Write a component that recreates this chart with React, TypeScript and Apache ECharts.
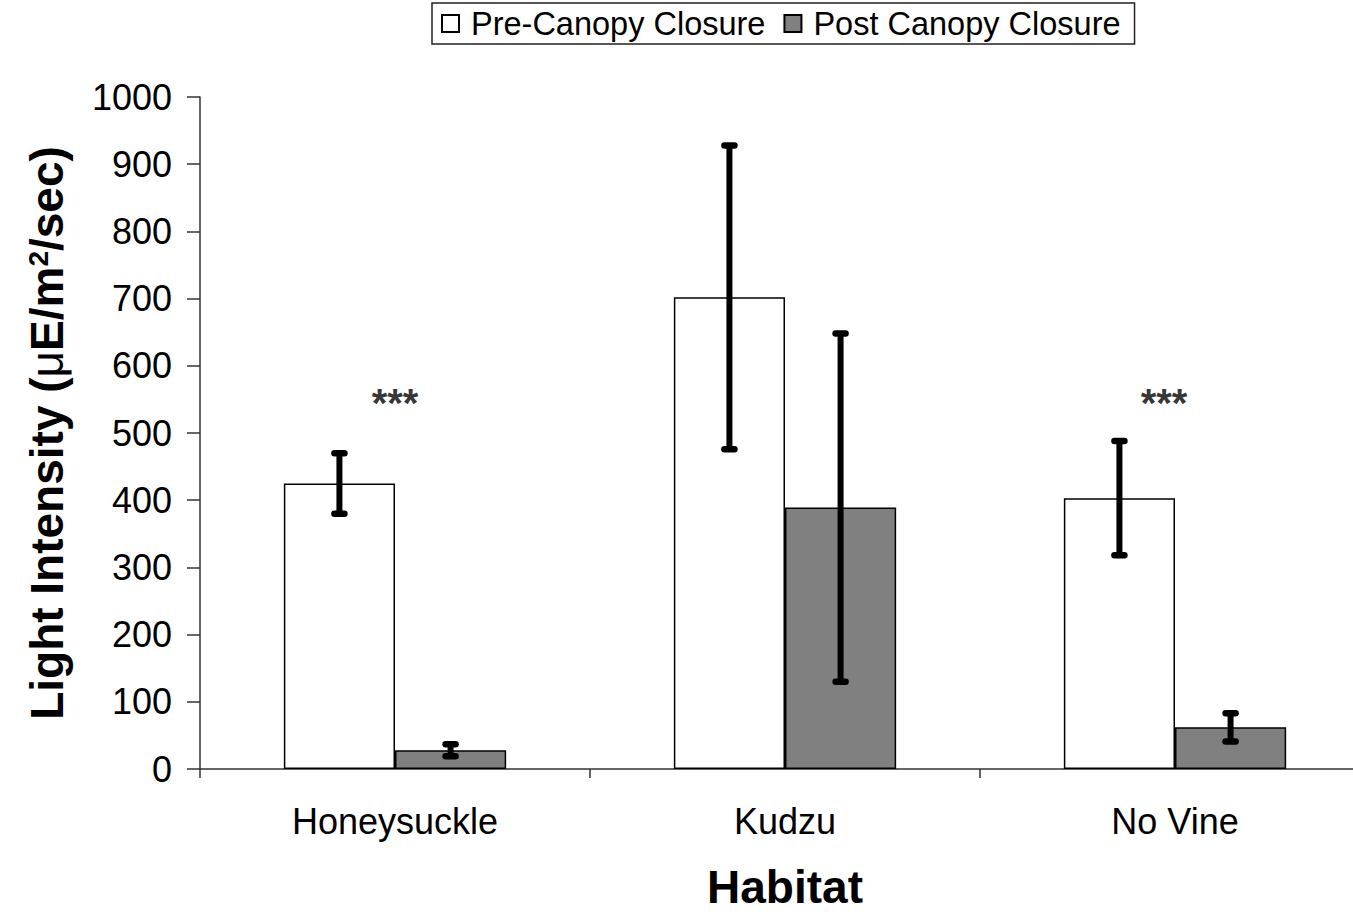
import React, { useEffect, useRef } from "react";
import * as echarts from "echarts";

const categories = ["Honeysuckle", "Kudzu", "No Vine"];
const seriesNames = ["Pre-Canopy Closure", "Post Canopy Closure"];
const preMean = [425, 702, 403];
const preErr = [45, 226, 85];
const postMean = [28, 389, 62];
const postErr = [9, 259, 21];
const sigLabels = ["***", "", "***"];
const sigValue = 553;
const yTicks = [0, 100, 200, 300, 400, 500, 600, 700, 800, 900, 1000];

const FONT = "'Liberation Sans', Arial, Helvetica, sans-serif";
const CAT_GAP = 0.43;

function errorSeries(means: number[], errs: number[], side: number) {
  const data = means.map((m, i) => [i, m - errs[i], m + errs[i]]);
  return {
    type: "custom",
    silent: true,
    z: 10,
    data,
    renderItem: (params: any, api: any) => {
      const idx = api.value(0);
      const lo = api.value(1);
      const hi = api.value(2);
      const band = api.size([1, 0])[0];
      const bw = (band * (1 - CAT_GAP)) / 2;
      const cx = api.coord([idx, 0])[0] + (side * bw) / 2;
      const yLo = api.coord([idx, lo])[1];
      const yHi = api.coord([idx, hi])[1];
      const capHalf = 5;
      const st = { stroke: "#000", lineWidth: 6, lineCap: "butt" };
      const capSt = { stroke: "#000", lineWidth: 6.5, lineCap: "round" };
      return {
        type: "group",
        children: [
          { type: "line", shape: { x1: cx, y1: yLo, x2: cx, y2: yHi }, style: st },
          { type: "line", shape: { x1: cx - capHalf, y1: yHi, x2: cx + capHalf, y2: yHi }, style: capSt },
          { type: "line", shape: { x1: cx - capHalf, y1: yLo, x2: cx + capHalf, y2: yLo }, style: capSt },
        ],
      };
    },
  };
}

export default function App() {
  const ref = useRef<HTMLDivElement>(null);
  useEffect(() => {
    if (!ref.current) return;
    const chart = echarts.init(ref.current, undefined, { renderer: "svg" });
    chart.setOption({
      animation: false,
      backgroundColor: "#fff",
      textStyle: { fontFamily: FONT },
      legend: {
        data: seriesNames,
        left: 432,
        top: 3,
        padding: [4, 14, 4, 9],
        itemWidth: 17,
        itemHeight: 17,
        itemGap: 18,
        borderColor: "#222",
        borderWidth: 1.5,
        icon: "rect",
        textStyle: { fontSize: 32.5, color: "#000", fontFamily: FONT, padding: [0, 0, 0, 7] },
      },
      grid: {
        left: 200,
        top: 97,
        width: 1170,
        height: 672,
        containLabel: false,
        outerBoundsMode: "none",
      },
      xAxis: {
        type: "category",
        data: categories,
        axisLine: { lineStyle: { color: "#333", width: 1.5 } },
        axisTick: { show: true, length: 9, lineStyle: { color: "#333", width: 1.5 } },
        axisLabel: { fontSize: 36, color: "#000", margin: 34, fontFamily: FONT },
        name: "Habitat",
        nameLocation: "middle",
        nameGap: 99,
        nameTextStyle: { fontSize: 46, lineHeight: 38, fontWeight: "bold", color: "#000", fontFamily: FONT },
      },
      yAxis: {
        type: "value",
        min: 0,
        max: 1000,
        interval: 100,
        splitLine: { show: false },
        axisLine: { show: true, lineStyle: { color: "#333", width: 1.5 } },
        axisTick: { show: true, length: 13, lineStyle: { color: "#333", width: 1.5 } },
        axisLabel: {
          fontSize: 36,
          color: "#000",
          margin: 28,
          fontFamily: FONT,
          formatter: (v: number) => (yTicks.includes(v) ? String(v) : ""),
        },
        name: "{b|Light Intensity (}{m|μ}{b|E/m}{s|2}{b|/sec)}",
        nameLocation: "middle",
        nameRotate: 90,
        nameGap: 130,
        nameTextStyle: {
          rich: {
            b: { fontSize: 46, fontWeight: "bold", color: "#000", fontFamily: FONT },
            m: { fontSize: 46, color: "#000", fontFamily: FONT },
            s: { fontSize: 28, fontWeight: "bold", color: "#000", fontFamily: FONT, verticalAlign: "top" },
          },
        },
      },
      series: [
        {
          name: seriesNames[0],
          type: "bar",
          data: preMean,
          barGap: "0%",
          barCategoryGap: "43%",
          itemStyle: { color: "#fff", borderColor: "#000", borderWidth: 1.5 },
        },
        {
          name: seriesNames[1],
          type: "bar",
          data: postMean,
          barGap: "0%",
          barCategoryGap: "43%",
          itemStyle: { color: "#808080", borderColor: "#000", borderWidth: 1.5 },
        },
        errorSeries(preMean, preErr, -1),
        errorSeries(postMean, postErr, 1),
        {
          type: "scatter",
          silent: true,
          symbolSize: 0,
          z: 11,
          data: sigLabels.map((s, i) => ({
            value: [i, sigValue],
            label: { show: s !== "", formatter: s, offset: [i === 2 ? -11 : 0, 6] },
          })),
          label: {
            show: true,
            position: "inside",
            fontSize: 40,
            fontWeight: "bold",
            color: "#000",
            fontFamily: FONT,
          },
        },
      ],
    });
    return () => chart.dispose();
  }, []);
  return (
    <div
      ref={ref}
      style={{ position: "absolute", left: 0, top: 0, width: 1353, height: 912, background: "#fff" }}
    />
  );
}
